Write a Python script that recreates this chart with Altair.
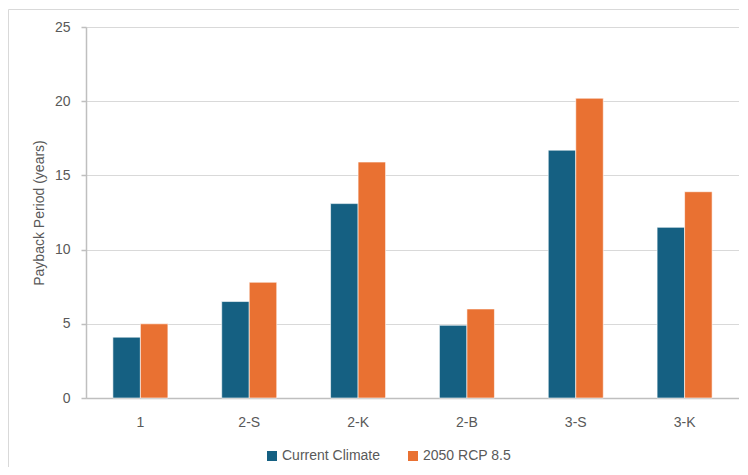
import altair as alt
import pandas as pd

categories = ["1", "2-S", "2-K", "2-B", "3-S", "3-K"]
series = ["Current Climate", "2050 RCP 8.5"]
current_climate = [4.1, 6.5, 13.1, 4.9, 16.7, 11.5]
rcp_2050 = [5.0, 7.8, 15.9, 6.0, 20.2, 13.9]
colors = ["#156082", "#E97132"]
y_ticks = [0, 5, 10, 15, 20, 25]

rows = []
for c, a, b in zip(categories, current_climate, rcp_2050):
    rows.append({"category": c, "series": series[0], "value": a})
    rows.append({"category": c, "series": series[1], "value": b})
df = pd.DataFrame(rows)

FONT = "Liberation Sans"
GRAY = "#595959"

frame = alt.Chart(alt.Data(values=[{"k": 1}])).mark_rect(
    filled=False, stroke="#d9d9d9", strokeWidth=1
).encode(
    x=alt.value(-77.5), x2=alt.value(760), y=alt.value(-17.5), y2=alt.value(520)
)

bars = alt.Chart(df).mark_bar(stroke="white", strokeWidth=0.6).encode(
    x=alt.X(
        "category:N",
        sort=categories,
        scale=alt.Scale(paddingInner=0.4945, paddingOuter=0.247),
        axis=alt.Axis(
            title=None, labelAngle=0, ticks=False, tickSize=0, labelPadding=17,
            domainColor="#bfbfbf", domainWidth=1.5, grid=False,
        ),
    ),
    xOffset=alt.XOffset("series:N", sort=series,
                        scale=alt.Scale(paddingInner=0, paddingOuter=0)),
    y=alt.Y(
        "value:Q",
        scale=alt.Scale(domain=[0, 25], nice=False),
        axis=alt.Axis(
            values=y_ticks, title="Payback Period (years)", tickSize=5,
            tickColor="#bfbfbf", tickWidth=1.5, labelPadding=11,
            domainColor="#bfbfbf", domainWidth=1.5,
            gridColor="#d9d9d9", gridWidth=1.2, titlePadding=8,
        ),
    ),
    color=alt.Color(
        "series:N",
        sort=series,
        scale=alt.Scale(domain=series, range=colors),
        legend=alt.Legend(
            title=None, orient="none", direction="horizontal",
            legendX=179, legendY=422, symbolType="square", symbolSize=100,
            symbolStrokeWidth=0, labelOffset=3, columnPadding=25, padding=0,
            labelFont=FONT, labelFontSize=14, labelColor=GRAY,
        ),
    ),
)

chart = alt.layer(frame, bars).properties(
    width=653,
    height=371,
    padding={"left": 78, "top": 19, "right": 0, "bottom": 69},
    autosize=alt.AutoSizeParams(type="none"),
).configure_view(
    stroke="#d9d9d9", strokeWidth=1
).configure_axis(
    labelFont=FONT, labelFontSize=14, labelColor=GRAY,
    titleFont=FONT, titleFontSize=14, titleColor=GRAY, titleFontWeight="normal",
)

chart.save("out.html", embed_options={"renderer": "svg", "actions": False})
